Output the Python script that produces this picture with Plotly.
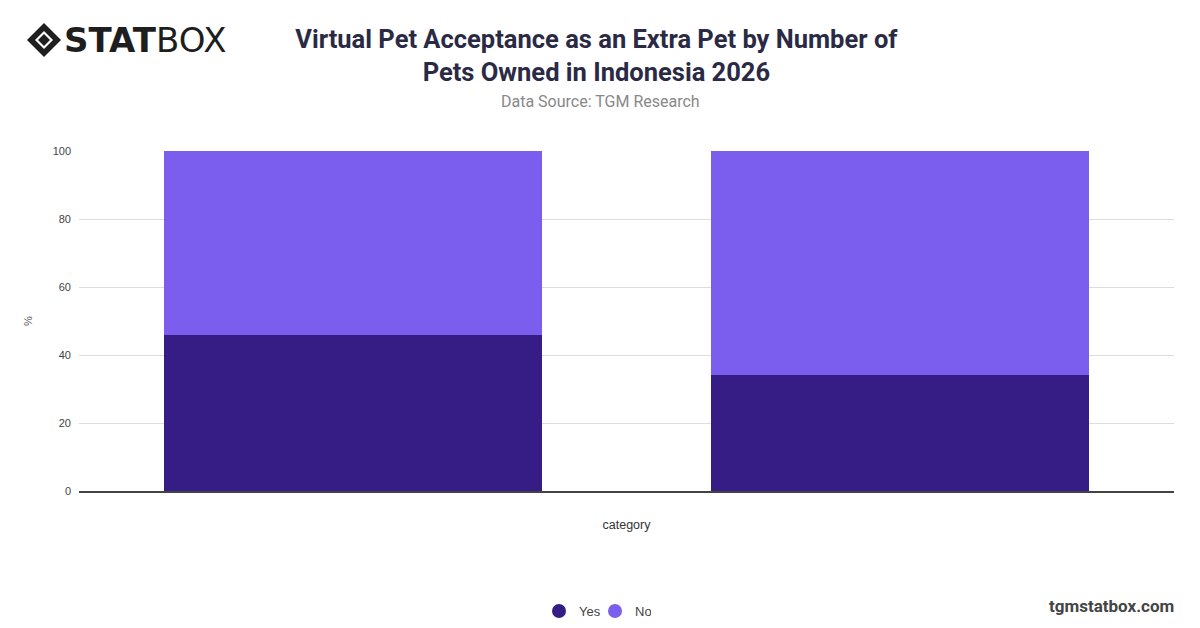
import plotly.graph_objects as go

categories = ["1 Pet", "More than 1 Pet"]
yes_values = [46, 34]
no_values = [54, 66]
series_names = ["Yes", "No"]
colors = ["#361d86", "#7c5eee"]
y_ticks = [0, 20, 40, 60, 80, 100]

fig = go.Figure()
for name, vals, col in zip(series_names, [yes_values, no_values], colors):
    fig.add_trace(go.Bar(x=categories, y=vals, name=name, marker=dict(color=col, line=dict(width=0)),
                         showlegend=False, width=0.69))
for name, col in zip(series_names, colors):
    fig.add_trace(go.Scatter(x=[None], y=[None], mode="markers", name=name,
                             marker=dict(color=col, size=14, symbol="circle")))

def px(x): return (x-79)/1095
def py(y): return (491-y)/340

fig.update_layout(
    barmode="stack",
    width=1200, height=628,
    margin=dict(l=79, r=26, t=151, b=137, autoexpand=False),
    paper_bgcolor="white", plot_bgcolor="white",
    font=dict(family="Liberation Sans, Arial, sans-serif", color="#555"),
    showlegend=True,
    legend=dict(orientation="h", x=px(595), xanchor="center", y=-0.353, yanchor="middle",
                traceorder="normal", entrywidth=11, entrywidthmode="pixels",
                font=dict(size=13, color="#444"), itemwidth=30, tracegroupgap=0),
    title=dict(text="<b>Virtual Pet Acceptance as an Extra Pet by Number of<br>Pets Owned in Indonesia 2026</b>",
               x=0.497, xanchor="center", y=0.924, yanchor="middle",
               font=dict(size=25.5, color="#2b2a45", family="Roboto, sans-serif")),
    xaxis=dict(title=dict(text="category", font=dict(size=12.5, color="#333"), standoff=28),
               showticklabels=False, showgrid=False, showline=True, linecolor="#444", linewidth=1.5,
               ticks=""),
    yaxis=dict(title=dict(text="%", font=dict(size=11, color="#555"), standoff=17),
               range=[0, 100], tickvals=y_ticks, showgrid=True, gridcolor="#dcdcdc",
               tickfont=dict(size=11, color="#444"), zeroline=False, ticks="", ticklen=0,
               ticklabelstandoff=7),
)

fig.add_annotation(text="Data Source: TGM Research", xref="paper", yref="paper",
                   x=px(600), y=py(101), xanchor="center", yanchor="middle",
                   showarrow=False, font=dict(size=16, color="#888", family="Roboto, sans-serif"))
fig.add_annotation(text="<b>tgmstatbox.com</b>", xref="paper", yref="paper",
                   x=px(1176), y=py(606), xanchor="right", yanchor="middle",
                   showarrow=False, font=dict(size=17, color="#444", family="Roboto, sans-serif"))
# logo
fig.add_annotation(text="<b>STAT</b>BOX", xref="paper", yref="paper",
                   x=px(62), y=py(40), xanchor="left", yanchor="middle",
                   showarrow=False, font=dict(size=34, color="#1e1e1e", family="DejaVu Sans, sans-serif"))
cx, cy = 44, 40
for rr, col in [(17, "#1e1e1e"), (9, "white"), (6, "#1e1e1e")]:
    fig.add_shape(type="path", xref="paper", yref="paper",
                  path=f"M {px(cx-rr)} {py(cy)} L {px(cx)} {py(cy-rr)} L {px(cx+rr)} {py(cy)} L {px(cx)} {py(cy+rr)} Z",
                  fillcolor=col, line=dict(width=0))

fig.write_html("out.html", config={"displayModeBar": False},
               post_script="document.body.style.margin='0';")
